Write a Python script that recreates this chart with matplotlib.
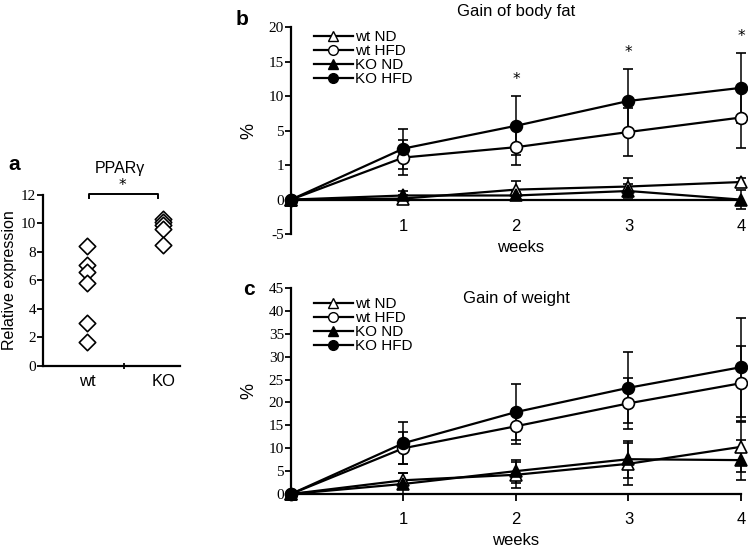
import numpy as np
import matplotlib
matplotlib.use('Agg')
import matplotlib.pyplot as plt
from matplotlib.lines import Line2D

# panel a: PPARg relative expression
wt_expr = [8.4, 7.1, 6.6, 5.8, 3.0, 1.7]
ko_expr = [10.3, 10.1, 9.9, 9.6, 8.5]

# panel b: gain of body fat (axis is drawn with uneven tick labels)
weeks = [0, 1, 2, 3, 4]
fat_ticks = [-5, 0, 5, 10, 15, 20, 25]
fat_tick_labels = ['-5', '0', '1', '5', '10', '15', '20']
wt_nd_fat = [0, 0.15, 1.45, 1.9, 2.55]
wt_nd_fat_err = [0, 0.5, 1.25, 1.25, 0.6]
wt_hfd_fat = [0, 6.1, 7.6, 9.8, 11.9]
wt_hfd_fat_err = [0, 2.5, 2.6, 3.5, 4.4]
ko_nd_fat = [0, 0.6, 0.6, 1.25, 0]
ko_nd_fat_err = [0, 0.6, 0.5, 1.0, 1.4]
ko_hfd_fat = [0, 7.4, 10.7, 14.3, 16.2]
ko_hfd_fat_err = [0, 2.9, 4.3, 4.6, 5.1]
fat_star_weeks = [2, 3, 4]

# panel c: gain of weight
wt_nd_w = [0, 3.0, 4.2, 6.6, 10.3]
wt_nd_w_err = [0, 1.5, 2.8, 4.6, 5.5]
wt_hfd_w = [0, 10.0, 14.8, 19.8, 24.2]
wt_hfd_w_err = [0, 3.5, 3.8, 5.6, 8.2]
ko_nd_w = [0, 2.2, 5.0, 7.6, 7.4]
ko_nd_w_err = [0, 2.3, 2.5, 4.0, 4.3]
ko_hfd_w = [0, 11.1, 17.9, 23.2, 27.7]
ko_hfd_w_err = [0, 4.6, 6.2, 7.8, 10.8]

labels = ['wt ND', 'wt HFD', 'KO ND', 'KO HFD']
styles = [('^', 'white'), ('o', 'white'), ('^', 'black'), ('o', 'black')]

SANS = 'Liberation Sans'
SERIF = 'Liberation Serif'

fig = plt.figure(figsize=(7.48, 5.47), dpi=100)


def draw_series(ax, ys, errs):
    for (m, fc), y, e in zip(styles, ys, errs):
        ax.errorbar(weeks, y, yerr=e, color='black', lw=1.6, elinewidth=1.1,
                    capsize=3.5, capthick=1.1, marker=m, ms=8.5, mfc=fc,
                    mec='black', mew=1.2, zorder=3, clip_on=False)


def legend(ax, top):
    handles = [Line2D([], [], color='black', lw=1.6, marker=m, ms=7,
                      mfc=fc, mec='black') for m, fc in styles]
    ax.legend(handles, labels, loc='upper left', bbox_to_anchor=(0.03, top),
              frameon=False, prop={'family': SANS, 'size': 11},
              handlelength=2.6, handletextpad=0.1, labelspacing=0.0,
              borderaxespad=0.2)


def style_line_axes(ax):
    for s in ['top', 'right']:
        ax.spines[s].set_visible(False)
    ax.spines['left'].set_linewidth(1.6)
    ax.spines['bottom'].set_linewidth(1.6)
    ax.set_xlim(0, 4)
    ax.set_xticks([1, 2, 3, 4])
    for t in ax.get_xticklabels():
        t.set_fontfamily(SANS)
        t.set_fontsize(12)
    for t in ax.get_yticklabels():
        t.set_fontfamily(SERIF)
        t.set_fontsize(11)
    ax.tick_params(axis='y', length=4, width=1.3, pad=1)
    ax.set_ylabel('%', family=SANS, fontsize=13, labelpad=8)
    ax.set_xlabel('weeks', family=SANS, fontsize=12)


# ---- panel a
ax_a = fig.add_axes([0.0575, 0.331, 0.183, 0.3126])
ax_a.scatter([1] * len(wt_expr), wt_expr, marker='D', s=70, facecolors='white',
             edgecolors='black', linewidths=1.2, zorder=3)
ax_a.scatter([2] * len(ko_expr), ko_expr, marker='D', s=70, facecolors='white',
             edgecolors='black', linewidths=1.2, zorder=3)
ax_a.set_xlim(0.42, 2.22)
ax_a.set_ylim(0, 12)
ax_a.set_yticks(range(0, 13, 2))
ax_a.set_xticks([1, 2])
ax_a.set_xticklabels(['wt', 'KO'], family=SANS, fontsize=12)
ax_a.set_xticks([1.49], minor=True)
ax_a.tick_params(axis='x', which='major', length=0, pad=6)
ax_a.tick_params(axis='x', which='minor', length=5, width=1.3, direction='inout')
ax_a.tick_params(axis='y', length=4, width=1.3, pad=1)
for t in ax_a.get_yticklabels():
    t.set_fontfamily(SERIF)
    t.set_fontsize(11)
for s in ['top', 'right']:
    ax_a.spines[s].set_visible(False)
ax_a.spines['left'].set_linewidth(1.6)
ax_a.spines['bottom'].set_linewidth(1.6)
ax_a.set_ylabel('Relative expression', family=SANS, fontsize=11.5, labelpad=3)
ax_a.plot([1.02, 1.02, 1.93, 1.93], [11.8, 12.05, 12.05, 11.8], color='black',
          lw=1.4, clip_on=False)
ax_a.text(1.47, 12.15, '*', ha='center', va='bottom', fontsize=11)
ax_a.text(1.43, 13.3, 'PPARγ', ha='center', va='bottom', family=SANS, fontsize=11.5)
fig.text(0.011, 0.69, 'a', family=SANS, fontsize=15, fontweight='bold')

# ---- panel b
ax_b = fig.add_axes([0.389, 0.572, 0.6016, 0.3784])
draw_series(ax_b, [wt_nd_fat, wt_hfd_fat, ko_nd_fat, ko_hfd_fat],
            [wt_nd_fat_err, wt_hfd_fat_err, ko_nd_fat_err, ko_hfd_fat_err])
ax_b.set_ylim(-5, 25)
ax_b.set_yticks(fat_ticks)
ax_b.set_yticklabels(fat_tick_labels)
ax_b.spines['bottom'].set_position(('data', 0))
style_line_axes(ax_b)
ax_b.tick_params(axis='x', length=0, pad=14)
ax_b.xaxis.set_label_coords(0.51, -0.03)
for w in fat_star_weeks:
    ax_b.text(w, ko_hfd_fat[w] + ko_hfd_fat_err[w] + 2.4, '*', ha='center',
              va='center', fontsize=11)
ax_b.text(0.5, 1.04, 'Gain of body fat', transform=ax_b.transAxes,
          ha='center', va='bottom', family=SANS, fontsize=12)
legend(ax_b, 1.03)
fig.text(0.315, 0.955, 'b', family=SANS, fontsize=15, fontweight='bold')

# ---- panel c
ax_c = fig.add_axes([0.389, 0.0969, 0.6016, 0.3766])
draw_series(ax_c, [wt_nd_w, wt_hfd_w, ko_nd_w, ko_hfd_w],
            [wt_nd_w_err, wt_hfd_w_err, ko_nd_w_err, ko_hfd_w_err])
ax_c.set_ylim(0, 45)
ax_c.set_yticks(range(0, 46, 5))
style_line_axes(ax_c)
ax_c.tick_params(axis='x', length=5, width=1.3, pad=8)
ax_c.text(0.5, 0.985, 'Gain of weight', transform=ax_c.transAxes,
          ha='center', va='top', family=SANS, fontsize=12)
legend(ax_c, 1.0)
fig.text(0.325, 0.46, 'c', family=SANS, fontsize=15, fontweight='bold')

fig.savefig('out.png', dpi=100)
